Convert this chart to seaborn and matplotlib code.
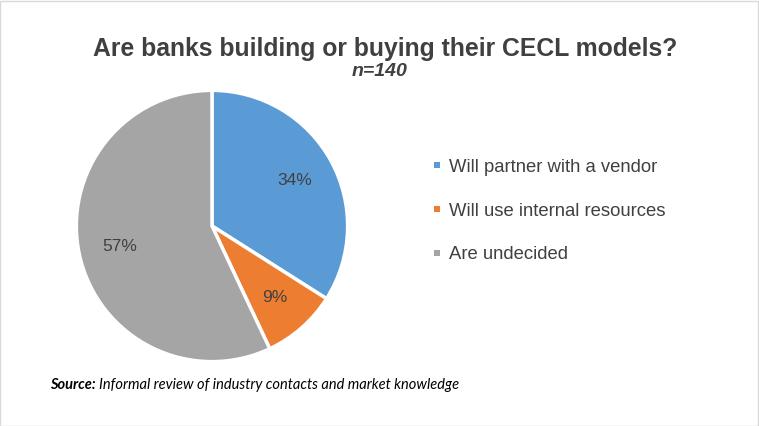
import seaborn as sns
import matplotlib.pyplot as plt
from matplotlib.patches import Rectangle
from matplotlib.lines import Line2D

categories = ["Will partner with a vendor", "Will use internal resources", "Are undecided"]
shares = [34, 9, 57]
colors = ["#5B9BD5", "#ED7D31", "#A5A5A5"]

sns.set_theme(style="white")
plt.rcParams['font.family'] = ['Liberation Sans', 'DejaVu Sans']

fig = plt.figure(figsize=(7.59, 4.26), dpi=100)
ax = fig.add_axes([75 / 759, 63 / 426, 274 / 759, 274 / 426])

wedges, texts, autotexts = ax.pie(
    shares, colors=colors, startangle=90, counterclock=False,
    autopct=lambda p: f"{p:.0f}%", pctdistance=0.7,
    wedgeprops=dict(edgecolor="white", linewidth=2.5),
    textprops=dict(color="#404040", fontsize=12.5),
)
ax.set_xlim(-1.01, 1.01)
ax.set_ylim(-1.01, 1.01)
ax.set_aspect("equal")

fig.text(0.508, 1 - 49 / 426, "Are banks building or buying their CECL models?",
         ha="center", va="center", fontsize=17.8, fontweight="bold", color="#404040")
fig.text(380 / 759, 1 - 72 / 426, "n=140", ha="center", va="center", fontsize=14,
         fontstyle="italic", fontweight="bold", color="#404040")

handles = [Line2D([], [], linestyle="none", marker="s", markersize=4.6,
                  markerfacecolor=w.get_facecolor(), markeredgewidth=0) for w in wedges]
leg = fig.legend(handles, categories, loc="center left",
                 bbox_to_anchor=(0.548, 1 - 211 / 426),
                 frameon=False, fontsize=13.3, handlelength=0.45,
                 handletextpad=0.45, labelspacing=1.45, labelcolor="#404040")

# source line: bold italic label followed by italic text
src_y = 1 - 385 / 426
src_b = fig.text(50 / 759, src_y, "Source:", fontsize=10.5, color="black", va="center",
                 family=["Lato", "DejaVu Sans"], fontstyle="italic", fontweight="bold")
fig.canvas.draw()
bb = src_b.get_window_extent()
fig.text((bb.x1 + 3) / fig.bbox.width, src_y,
         "Informal review of industry contacts and market knowledge",
         fontsize=10.5, color="black", va="center", family=["Lato", "DejaVu Sans"],
         fontstyle="italic")

fig.patches.append(Rectangle((0.0005, 0.001), 0.998, 0.997, transform=fig.transFigure,
                             fill=False, edgecolor="#D9D9D9", linewidth=1))

fig.savefig("out.png", dpi=100, facecolor="white")
